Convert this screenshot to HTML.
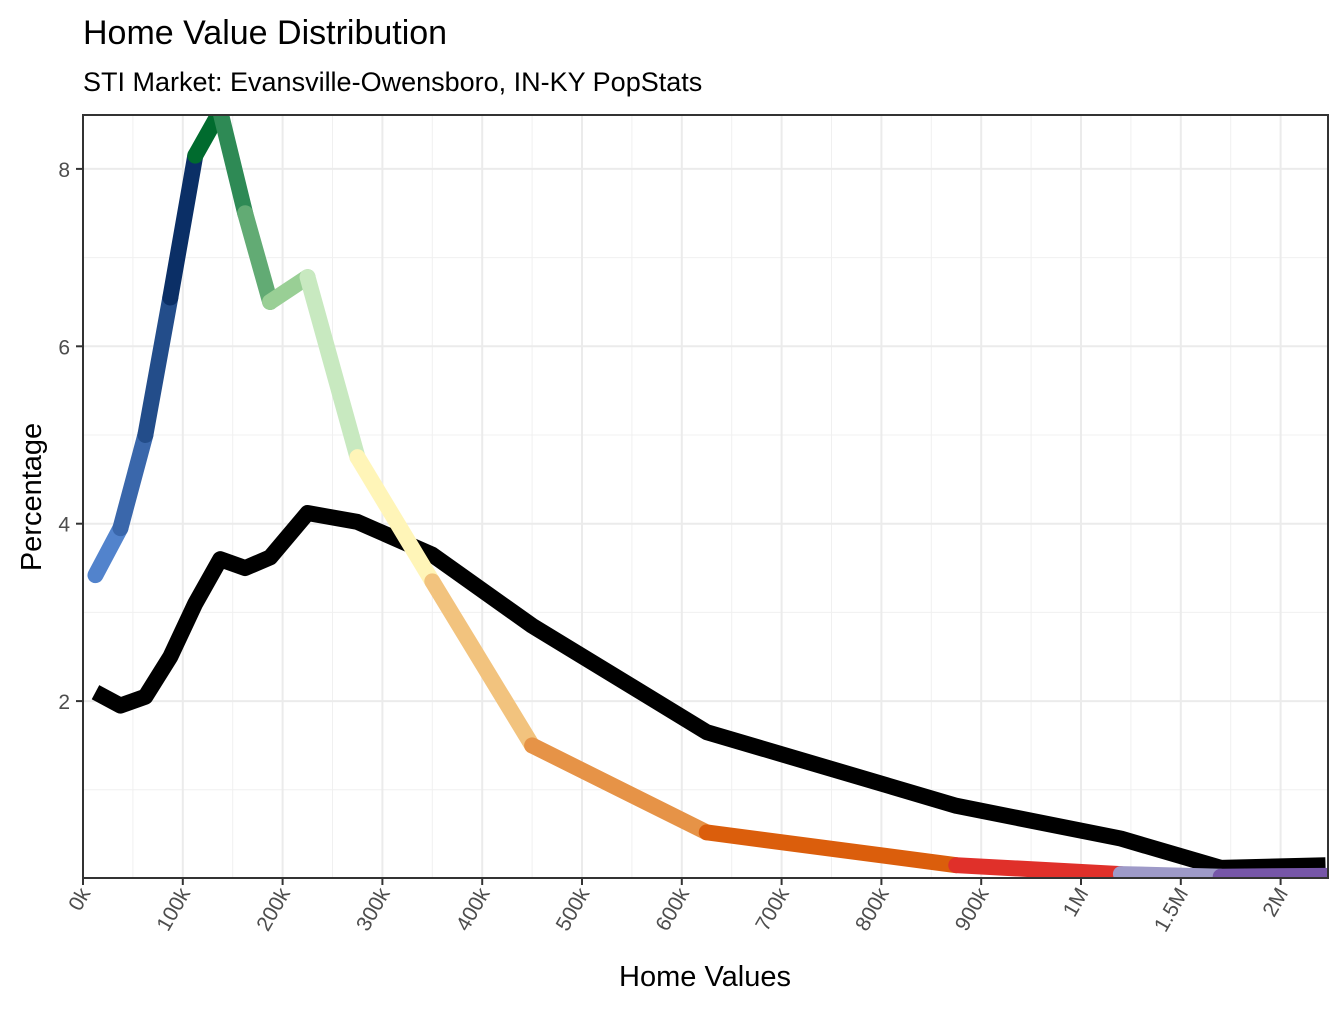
<!DOCTYPE html>
<html><head><meta charset="utf-8"><style>
body{margin:0;background:#fff;font-family:"Liberation Sans",Arial,sans-serif}
svg text{font-family:"Liberation Sans",Arial,sans-serif}
</style></head><body>
<svg id="chart" width="1344" height="1008" xmlns="http://www.w3.org/2000/svg">
<text x="83" y="44" font-size="34" fill="#000">Home Value Distribution</text>
<text x="83" y="91" font-size="27" fill="#000">STI Market: Evansville-Owensboro, IN-KY PopStats</text>
<g id="grid"></g>
<defs><clipPath id="clip"><rect x="83" y="115" width="1245" height="763"/></clipPath></defs>
<g id="series" clip-path="url(#clip)"></g>
<rect x="83" y="115" width="1245" height="763" fill="none" stroke="#333" stroke-width="2"/>
<g id="axes"></g>
<text x="705" y="986" font-size="29" text-anchor="middle">Home Values</text>
<text transform="translate(41,497) rotate(-90)" font-size="29" text-anchor="middle">Percentage</text>
</svg>
<script>
const xValues=[12.5,37.5,62.5,87.5,112.5,137.5,162.5,187.5,225,275,350,450,625,875,1200,1700,2225];
const marketPct=[3.42,3.95,5.0,6.55,8.15,8.65,7.5,6.5,6.78,4.75,3.35,1.5,0.52,0.15,0.05,0.02,0.03];
const benchmarkPct=[2.1,1.95,2.05,2.5,3.1,3.6,3.5,3.62,4.12,4.02,3.65,2.85,1.65,0.82,0.45,0.12,0.15];
const segColors=["#5283cc","#3a67ab","#234d8a","#0b2f66","#006b2e","#2e8a55","#62ab74","#99cf95","#c8e9c0","#fff5b8","#f2c37e","#e69347","#db5e0c","#e0302a","#9e9ac8","#7656a8"];
const xTicks=[0,100,200,300,400,500,600,700,800,900,1000,1500,2000];
const xTickLabels=["0k","100k","200k","300k","400k","500k","600k","700k","800k","900k","1M","1.5M","2M"];
const yTicks=[2,4,6,8];
const NS="http://www.w3.org/2000/svg";
const X0=83,STEP=99.8,Y0=878.5,YU=88.7;
function pos(v){if(v<=1000)return v/100;if(v<=1500)return 10+(v-1000)/500;return 11+(v-1500)/500;}
function sx(v){return X0+pos(v)*STEP;}
function sy(v){return Y0-v*YU;}
function mk(tag,at,parent){const e=document.createElementNS(NS,tag);for(const k in at)e.setAttribute(k,at[k]);parent.appendChild(e);return e;}
const grid=document.getElementById('grid'),series=document.getElementById('series'),axes=document.getElementById('axes');
// minor grid
for(let i=0;i<12;i++){const xm=X0+(i+0.5)*STEP;const l=mk('line',{x1:xm,x2:xm,y1:115,y2:878,stroke:'#f0f0f0','stroke-width':1},grid);
}
for(let v=1;v<=8;v+=2){const l=mk('line',{x1:83,x2:1328,y1:sy(v),y2:sy(v),stroke:'#f0f0f0','stroke-width':1},grid);
}
xTicks.forEach((t,i)=>{const x=sx(t);
const g=mk('line',{x1:x,x2:x,y1:115,y2:878,stroke:'#ebebeb','stroke-width':2},grid);

const tk=mk('line',{x1:x,x2:x,y1:878,y2:885,stroke:'#333','stroke-width':2},axes);

const tx=mk('text',{transform:`translate(${x+8},${893}) rotate(-60)`,'font-size':21,fill:'#4d4d4d','text-anchor':'end'},axes);
tx.textContent=xTickLabels[i];
});
yTicks.forEach(t=>{const y=sy(t);
const g=mk('line',{x1:83,x2:1328,y1:y,y2:y,stroke:'#ebebeb','stroke-width':2},grid);

const tk=mk('line',{x1:76,x2:83,y1:y,y2:y,stroke:'#333','stroke-width':2},axes);

const tx=mk('text',{x:70,y:y+8,'font-size':21,fill:'#4d4d4d','text-anchor':'end'},axes);
tx.textContent=t;
});
// benchmark line
const bp=mk('polyline',{points:xValues.map((v,i)=>sx(v)+','+sy(benchmarkPct[i])).join(' '),fill:'none',stroke:'#000','stroke-width':16,'stroke-linejoin':'round'},series);

// market segments
for(let i=0;i<xValues.length-1;i++){
const s=mk('line',{x1:sx(xValues[i]),y1:sy(marketPct[i]),x2:sx(xValues[i+1]),y2:sy(marketPct[i+1]),stroke:segColors[i],'stroke-width':16,'stroke-linecap':'round'},series);
}
</script>
</body></html>
